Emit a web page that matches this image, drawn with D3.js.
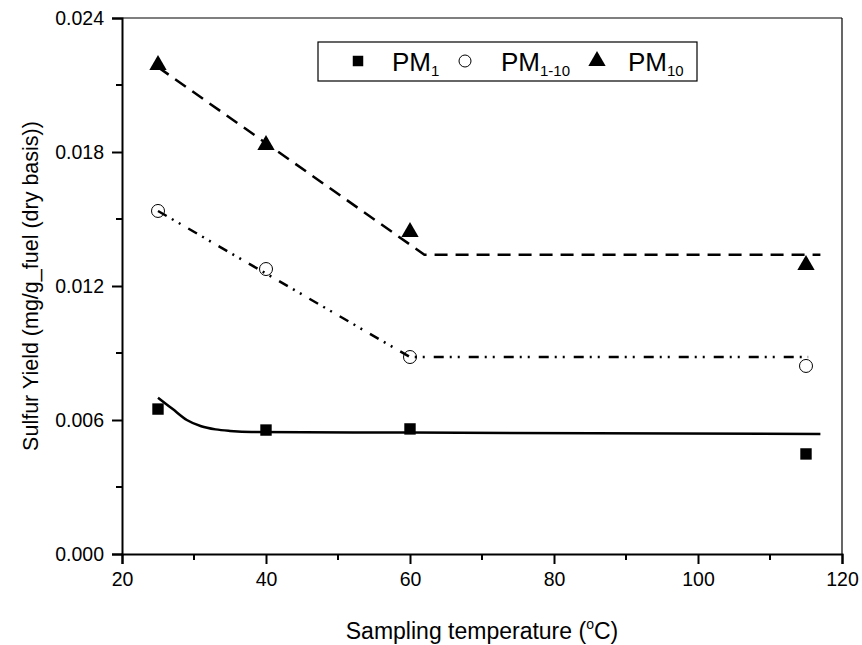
<!DOCTYPE html>
<html lang="en">
<head>
<meta charset="utf-8">
<script src="https://d3js.org/d3.v7.min.js"></script>
<style>
  body { margin: 0; background: #fff; }
  text { font-family: "Liberation Sans", Arial, sans-serif; fill: #000; }
</style>
</head>
<body>
<script>
// measured temperatures
var temps = [25, 40, 60, 115];
// sulfur yields, mg/g fuel
var pm1 = [0.00649, 0.00555, 0.0056, 0.00448];
var pm110 = [0.01536, 0.01276, 0.00882, 0.00842];
var pm10 = [0.02194, 0.01836, 0.01446, 0.01299];

// trend lines
var fitPm1 = [[25, 0.0070], [27, 0.0065], [29, 0.0060], [31, 0.00572], [33, 0.00558], [35, 0.00551], [38, 0.00546], [60, 0.00544], [117, 0.00537]];
var fitPm110 = [[25, 0.01536], [60, 0.00882], [115.3, 0.00882]];
var fitPm10 = [[25, 0.0218], [62, 0.0134], [117, 0.0134]];

var xTicks = [20, 40, 60, 80, 100, 120];
var yTicks = [0, 0.006, 0.012, 0.018, 0.024];

var width = 862, height = 645;
var mLeft = 122, mRight = 842, mTop = 18, mBottom = 554;

var svg = d3.select("body").append("svg")
  .attr("width", width)
  .attr("height", height);

var x = d3.scaleLinear().domain([20, 120]).range([mLeft, mRight]);
var y = d3.scaleLinear().domain([0, 0.024]).range([mBottom, mTop]);

// frame top + right
svg.append("line").attr("x1", mLeft).attr("x2", mRight).attr("y1", mTop).attr("y2", mTop)
  .attr("stroke", "#000").attr("stroke-width", 1.2);
svg.append("line").attr("x1", mRight).attr("x2", mRight).attr("y1", mTop).attr("y2", mBottom)
  .attr("stroke", "#000").attr("stroke-width", 1.2);

// minor ticks
var xMinor = d3.range(30, 120, 20);
var yMinor = d3.range(0.003, 0.024, 0.006);

var gx = svg.append("g").attr("transform", "translate(0," + mBottom + ")");
gx.call(d3.axisBottom(x).tickValues(xTicks).tickSize(10).tickPadding(8).tickFormat(d3.format("d")));
gx.selectAll(".tick line").attr("stroke-width", 2);
gx.select(".domain").attr("stroke-width", 2);
gx.selectAll(".tick text").style("font-size", "19.5px");
gx.selectAll(".minor").data(xMinor).enter().append("line")
  .attr("x1", x).attr("x2", x).attr("y1", 0).attr("y2", 6)
  .attr("stroke", "#000").attr("stroke-width", 2);

var gy = svg.append("g").attr("transform", "translate(" + mLeft + ",0)");
gy.call(d3.axisLeft(y).tickValues(yTicks).tickSize(10).tickPadding(8).tickFormat(d3.format(".3f")));
gy.selectAll(".tick line").attr("stroke-width", 2);
gy.select(".domain").attr("stroke-width", 2);
gy.selectAll(".tick text").style("font-size", "19.5px");
gy.selectAll(".minor").data(yMinor).enter().append("line")
  .attr("y1", y).attr("y2", y).attr("x1", 0).attr("x2", -6)
  .attr("stroke", "#000").attr("stroke-width", 2);
gy.selectAll(".domain, .tick line").attr("stroke", "#000");
gx.selectAll(".domain, .tick line").attr("stroke", "#000");

// axis titles
var xt = svg.append("text")
  .attr("x", 482).attr("y", 639)
  .attr("text-anchor", "middle").style("font-size", "23px");
xt.append("tspan").text("Sampling temperature (");
xt.append("tspan").text("o").attr("dy", -10).style("font-size", "14px");
xt.append("tspan").text("C)").attr("dy", 10);

svg.append("text")
  .attr("transform", "translate(38," + ((mTop + mBottom) / 2) + ") rotate(-90)")
  .attr("text-anchor", "middle").style("font-size", "21.5px")
  .text("Sulfur Yield (mg/g_fuel (dry basis))");

// lines
var line = d3.line().x(function(d) { return x(d[0]); }).y(function(d) { return y(d[1]); });
var curve = d3.line().curve(d3.curveMonotoneX)
  .x(function(d) { return x(d[0]); }).y(function(d) { return y(d[1]); });

svg.append("path").attr("d", curve(fitPm1))
  .attr("fill", "none").attr("stroke", "#000").attr("stroke-width", 2.5);
svg.append("path").attr("d", line(fitPm110))
  .attr("fill", "none").attr("stroke", "#000").attr("stroke-width", 2.5)
  .attr("stroke-dasharray", "10,6,2,6,2,9");
svg.append("path").attr("d", line(fitPm10))
  .attr("fill", "none").attr("stroke", "#000").attr("stroke-width", 2.5)
  .attr("stroke-dasharray", "13,8");

// markers
var sq = d3.symbol().type(d3.symbolSquare).size(130);
var tri = d3.symbol().type(d3.symbolTriangle).size(130);

svg.selectAll(".p1").data(temps).enter().append("path")
  .attr("d", sq)
  .attr("transform", function(d, i) { return "translate(" + x(d) + "," + y(pm1[i]) + ")"; });
svg.selectAll(".p110").data(temps).enter().append("circle")
  .attr("cx", x).attr("cy", function(d, i) { return y(pm110[i]); })
  .attr("r", 6.5).attr("fill", "none").attr("stroke", "#000").attr("stroke-width", 1);
svg.selectAll(".p10").data(temps).enter().append("path")
  .attr("d", tri)
  .attr("transform", function(d, i) { return "translate(" + x(d) + "," + (y(pm10[i]) + 1) + ")"; });

// legend
var lg = svg.append("g");
lg.append("text").attr("x", 340).attr("y", 71).attr("text-anchor", "middle")
  .style("font-size", "24px").style("font-weight", "bold").text("S");
lg.append("rect").attr("x", 318).attr("y", 42).attr("width", 379).attr("height", 39)
  .attr("fill", "#fff").attr("stroke", "#000").attr("stroke-width", 1.2);
var items = [
  { sub: "1", mx: 358, tx: 392, kind: "sq" },
  { sub: "1-10", mx: 465, tx: 501, kind: "ci" },
  { sub: "10", mx: 597, tx: 628, kind: "tr" }
];
items.forEach(function(it) {
  if (it.kind === "sq") lg.append("path").attr("d", d3.symbol().type(d3.symbolSquare).size(110)).attr("transform", "translate(" + it.mx + ",61)");
  if (it.kind === "ci") lg.append("circle").attr("cx", it.mx).attr("cy", 61).attr("r", 6).attr("fill", "none").attr("stroke", "#000");
  if (it.kind === "tr") lg.append("path").attr("d", d3.symbol().type(d3.symbolTriangle).size(130)).attr("transform", "translate(" + it.mx + ",61)");
  var t = lg.append("text").attr("x", it.tx).attr("y", 71).style("font-size", "26px");
  t.append("tspan").text("PM");
  t.append("tspan").text(it.sub).attr("dy", 5).style("font-size", "15px");
});
</script>
</body>
</html>
